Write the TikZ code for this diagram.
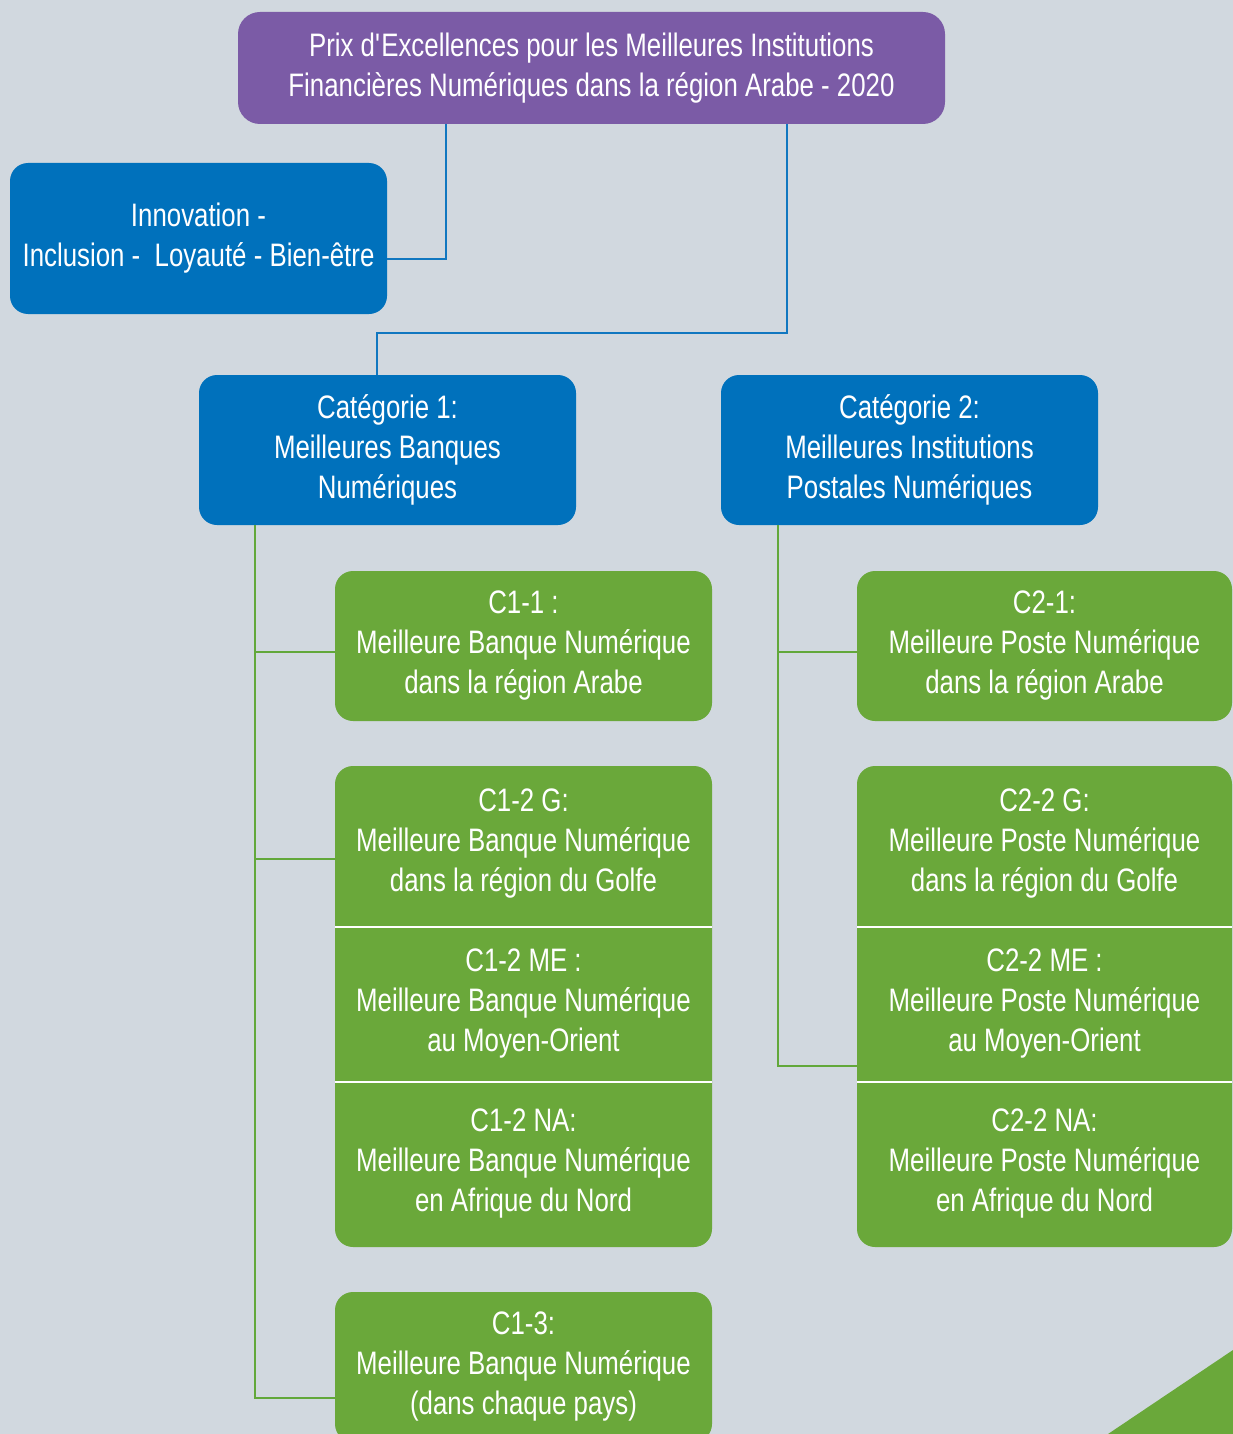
\documentclass[tikz,border=0pt]{standalone}
\usepackage{fontspec}
\setmainfont[FakeStretch=0.795]{Liberation Sans}
\begin{document}
\begin{tikzpicture}[x=1pt,y=-1pt,
  every node/.style={inner sep=0pt, outer sep=0pt, text=white, align=center,
    font=\fontsize{32.5}{40}\selectfont},
  boxbase/.style={rounded corners=18pt, minimum width=377pt, minimum height=150pt},
  purplebox/.style={boxbase, fill=purpleC, rounded corners=22pt},
  bluebox/.style={boxbase, fill=blueC},
  greenbox/.style={boxbase, fill=greenC},
  bline/.style={draw=blueL, line width=2.5pt},
  gline/.style={draw=greenL, line width=2.5pt},
  sepline/.style={draw=white, line width=2.5pt}]
\definecolor{bgC}{HTML}{D1D8DF}
\definecolor{purpleC}{HTML}{7B5BA6}
\definecolor{blueC}{HTML}{0071BC}
\definecolor{blueL}{HTML}{1177C0}
\definecolor{greenC}{HTML}{6AA83A}
\definecolor{greenL}{HTML}{62A83A}
\useasboundingbox (0,0) rectangle (1233,1434);
\clip (0,0) rectangle (1233,1434);
\fill[bgC] (0,0) rectangle (1233,1434);
\fill[greenC] (1233,1350) -- (1108,1434) -- (1233,1434) -- cycle;

% top and category nodes
\node[purplebox, minimum width=707pt, minimum height=112pt] (top) at (591.5,68)
  {Prix d\textquotesingle Excellences pour les Meilleures Institutions\\Financières Numériques dans la région Arabe - 2020};
\node[bluebox, minimum height=151pt] (inno) at (198.5,238.5)
  {Innovation -\\Inclusion -\ \ Loyauté - Bien-être};
\node[bluebox] (cat1) at (387.5,450) {Catégorie 1:\\Meilleures Banques\\Numériques};
\node[bluebox] (cat2) at (909.5,450) {Catégorie 2:\\Meilleures Institutions\\Postales Numériques};

% category 1 children
\node[greenbox] (c11) at (523.5,646) {C1-1 :\\Meilleure Banque Numérique\\dans la région Arabe};
\node[greenbox, minimum height=481pt] (c12) at (523.5,1006.5) {};
\node (c12g) at (523.5,844) {C1-2 G:\\Meilleure Banque Numérique\\dans la région du Golfe};
\node (c12me) at (523.5,1004) {C1-2 ME :\\Meilleure Banque Numérique\\au Moyen-Orient};
\node (c12na) at (523.5,1164) {C1-2 NA:\\Meilleure Banque Numérique\\en Afrique du Nord};
\node[greenbox, minimum height=150pt] (c13) at (523.5,1367) {C1-3:\\Meilleure Banque Numérique\\(dans chaque pays)};

% category 2 children
\node[greenbox, minimum width=375pt] (c21) at (1044.5,646) {C2-1:\\Meilleure Poste Numérique\\dans la région Arabe};
\node[greenbox, minimum width=375pt, minimum height=481pt] (c22) at (1044.5,1006.5) {};
\node (c22g) at (1044.5,844) {C2-2 G:\\Meilleure Poste Numérique\\dans la région du Golfe};
\node (c22me) at (1044.5,1004) {C2-2 ME :\\Meilleure Poste Numérique\\au Moyen-Orient};
\node (c22na) at (1044.5,1164) {C2-2 NA:\\Meilleure Poste Numérique\\en Afrique du Nord};

% separators
\draw[sepline] (c12.west |- 0,927) -- (c12.east |- 0,927);
\draw[sepline] (c12.west |- 0,1082) -- (c12.east |- 0,1082);
\draw[sepline] (c22.west |- 0,927) -- (c22.east |- 0,927);
\draw[sepline] (c22.west |- 0,1082) -- (c22.east |- 0,1082);

% blue connectors
\coordinate (k1) at (446,259);
\coordinate (k2) at (787,333);
\coordinate (k3) at (377,333);
\draw[bline] (top.south -| k1) -- (k1) -- (inno.east |- k1);
\draw[bline] (top.south -| k2) -- (k2) -- (k3) -- (cat1.north -| k3);

% green connectors category 1
\coordinate (t1) at (255,1398);
\coordinate (b11) at (255,652);
\coordinate (b12) at (255,859);
\draw[gline] (cat1.south -| t1) -- (t1) -- (c13.west |- t1);
\draw[gline] (b11) -- (c11.west |- b11);
\draw[gline] (b12) -- (c12.west |- b12);

% green connectors category 2
\coordinate (t2) at (778,1066);
\coordinate (b21) at (778,652);
\draw[gline] (cat2.south -| t2) -- (t2) -- (c22.west |- t2);
\draw[gline] (b21) -- (c21.west |- b21);
\end{tikzpicture}
\end{document}
